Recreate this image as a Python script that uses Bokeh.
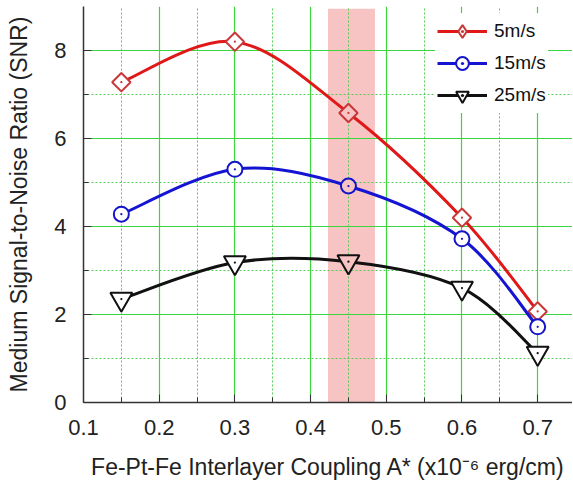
import numpy as np
from bokeh.plotting import figure
from bokeh.models import Range1d, FixedTicker, Legend, LegendItem, ColumnDataSource
from bokeh.embed import file_html
from bokeh.resources import INLINE

# ---- data ----
coupling = [0.15, 0.30, 0.45, 0.60, 0.70]
snr_5 = [7.28, 8.20, 6.58, 4.20, 2.07]
snr_15 = [4.28, 5.30, 4.92, 3.72, 1.72]
snr_25 = [2.35, 3.18, 3.20, 2.60, 1.12]
series_labels = ["5m/s", "15m/s", "25m/s"]
x_ticks = [0.1, 0.2, 0.3, 0.4, 0.5, 0.6, 0.7]
x_minor = [0.15, 0.25, 0.35, 0.45, 0.55, 0.65]
y_ticks = [0, 2, 4, 6, 8]
y_minor = [1, 3, 5, 7]
band_lo, band_hi, band_top = 0.423, 0.485, 8.95

FONT = "Liberation Sans"
BAND_COLOR = "#f7c3c3"
GRID_MAJOR = "#3cd63c"
GRID_MINOR = "#55cc55"

p = figure(width=572, height=488, output_backend="svg", toolbar_location=None,
           x_range=Range1d(0.1, 0.746), y_range=Range1d(0, 9.0),
           min_border_left=83, min_border_right=0, min_border_top=6, min_border_bottom=86)
p.outline_line_color = None
p.background_fill_color = "white"

# axes
p.xaxis.ticker = FixedTicker(ticks=x_ticks, minor_ticks=x_minor)
p.yaxis.ticker = FixedTicker(ticks=y_ticks, minor_ticks=y_minor)
p.xaxis.major_label_overrides = {t: f"{t:.1f}" for t in x_ticks}
for ax in (p.xaxis[0], p.yaxis[0]):
    ax.major_tick_in = 8
    ax.major_tick_out = 0
    ax.minor_tick_in = 5
    ax.minor_tick_out = 0
    ax.axis_line_color = "#333333"
    ax.axis_line_width = 1.5
    ax.major_tick_line_color = "#333333"
    ax.minor_tick_line_color = "#333333"
    ax.major_label_text_font = FONT
    ax.major_label_text_font_size = "22px"
    ax.major_label_text_color = "#222222"
    ax.axis_label_text_font = FONT
    ax.axis_label_text_font_size = "23px"
    ax.axis_label_text_font_style = "normal"
    ax.axis_label_text_color = "#222222"
p.xaxis.major_label_standoff = 17
p.yaxis.major_label_standoff = 17
p.xaxis.axis_label_standoff = 16
p.yaxis.axis_label_standoff = 19
p.xaxis.axis_label = "Fe-Pt-Fe Interlayer Coupling A* (x10\u207b\u2076 erg/cm)"
p.yaxis.axis_label = "Medium Signal-to-Noise Ratio (SNR)"

# grids
for g in (p.xgrid[0], p.ygrid[0]):
    g.grid_line_color = GRID_MAJOR
    g.grid_line_width = 1.2
    g.minor_grid_line_color = GRID_MINOR
    g.minor_grid_line_dash = "2 2"
    g.minor_grid_line_width = 1

# band (behind grid)
p.quad(left=[band_lo], right=[band_hi], bottom=[0], top=[band_top],
       fill_color=BAND_COLOR, line_color=None, level="image")


def smooth_segments(xs, ys):
    """Catmull-Rom spline through the data points, as cubic Bezier controls."""
    xs = np.asarray(xs, float)
    ys = np.asarray(ys, float)
    n = len(xs)
    px = np.concatenate([[xs[0]], xs, [xs[-1]]])
    py = np.concatenate([[ys[0]], ys, [ys[-1]]])
    d = dict(x0=[], y0=[], x1=[], y1=[], cx0=[], cy0=[], cx1=[], cy1=[])
    for i in range(n - 1):
        p0x, p1x, p2x, p3x = px[i], px[i + 1], px[i + 2], px[i + 3]
        p0y, p1y, p2y, p3y = py[i], py[i + 1], py[i + 2], py[i + 3]
        d["x0"].append(p1x); d["y0"].append(p1y)
        d["x1"].append(p2x); d["y1"].append(p2y)
        d["cx0"].append(p1x + (p2x - p0x) / 6); d["cy0"].append(p1y + (p2y - p0y) / 6)
        d["cx1"].append(p2x - (p3x - p1x) / 6); d["cy1"].append(p2y - (p3y - p1y) / 6)
    return ColumnDataSource(d)


fills = [BAND_COLOR if band_lo <= x <= band_hi else "white" for x in coupling]

# (values, line colour, marker colour, plot marker, legend marker)
styles = [
    (snr_5, "#e01818", "#c83838", dict(marker="square", angle=np.pi / 4, size=13), "diamond"),
    (snr_15, "#1414d2", "#1414c8", dict(marker="circle", size=15), None),
    (snr_25, "#111111", "#111111", dict(marker="inverted_triangle", size=22), None),
]

items = []
for (vals, lc, mc, mk, legend_marker), label in zip(styles, series_labels):
    src = smooth_segments(coupling, vals)
    r_line = p.bezier(x0="x0", y0="y0", x1="x1", y1="y1", cx0="cx0", cy0="cy0",
                      cx1="cx1", cy1="cy1", source=src, line_color=lc, line_width=3)
    msrc = ColumnDataSource(dict(x=coupling, y=vals, fill=fills))
    r_leg = None
    if legend_marker is not None:
        # legend-only shape, hidden under the plot marker
        r_leg = p.scatter("x", "y", source=msrc, marker=legend_marker, size=8,
                          fill_color="white", line_color=mc, line_width=2)
    r_mark = p.scatter("x", "y", source=msrc, fill_color="fill", line_color=mc,
                       line_width=2, **mk)
    r_dot = p.scatter(coupling, vals, marker="dot", size=9, line_color=mc, fill_color=mc)
    rs = [r_line, r_leg if r_leg is not None else r_mark, r_dot]
    items.append(LegendItem(label=label, renderers=rs))

legend = Legend(items=items, location=(352, 289), orientation="vertical",
                background_fill_color="white", background_fill_alpha=1,
                border_line_alpha=0, padding=2, margin=0,
                glyph_width=50, glyph_height=32, label_height=32, spacing=-2,
                label_standoff=7, label_text_font=FONT, label_text_font_size="19px",
                label_text_color="#111111")
p.add_layout(legend)

open("out.html", "w").write(file_html(p, INLINE))
